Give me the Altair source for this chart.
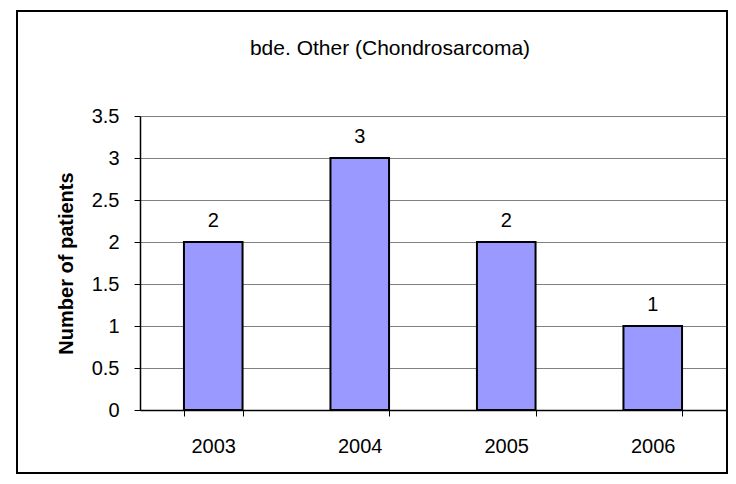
import altair as alt
import pandas as pd

years = ["2003", "2004", "2005", "2006"]
patients = [2, 3, 2, 1]
y_ticks = [0, 0.5, 1, 1.5, 2, 2.5, 3, 3.5]
chart_title = "bde. Other (Chondrosarcoma)"

df = pd.DataFrame({"year": years, "patients": patients})
FONT = "Liberation Sans"
FS = 20

base = alt.Chart(df)

x_enc = alt.X("year:N", sort=years, title=None,
              scale=alt.Scale(paddingInner=0.6, paddingOuter=0.3),
              axis=alt.Axis(labelAngle=0, labelFontSize=FS, labelColor="black",
                            labelFont=FONT, labelPadding=20, tickBand="extent",
                            tickSize=6, tickColor="black", domainColor="black",
                            domainWidth=1.5, grid=False))
y_enc = alt.Y("patients:Q", title="Number of patients",
              scale=alt.Scale(domain=[0, 3.5], nice=False),
              axis=alt.Axis(values=y_ticks, format="~g", labelFontSize=FS,
                            labelColor="black", labelFont=FONT, labelPadding=15,
                            tickSize=6, tickColor="black", domainColor="black",
                            domainWidth=1.5, gridColor="#808080", gridWidth=1,
                            titleFont=FONT, titleFontSize=FS, titleFontWeight="bold",
                            titleColor="black", titleX=-64, titleY=147,
                            titleAnchor="middle"))

bars = base.mark_bar(color="#9999FF", stroke="black", strokeWidth=2).encode(
    x=x_enc, y=y_enc)

labels = base.mark_text(font=FONT, fontSize=FS, color="black", dy=-15,
                        baseline="alphabetic").encode(
    x=alt.X("year:N", sort=years), y="patients:Q", text="patients:Q")

title = alt.Chart(pd.DataFrame({"t": [chart_title]})).mark_text(
    font=FONT, fontSize=21, color="black", baseline="alphabetic", align="center",
    clip=False).encode(text="t:N", x=alt.value(250), y=alt.value(-61))

border = base.mark_rect(fill=None, stroke="black", strokeWidth=2, clip=False).encode(
    x=alt.value(-123), x2=alt.value(587), y=alt.value(-105), y2=alt.value(357))

chart = alt.layer(bars, labels, title, border).properties(
    width=586, height=294,
    autosize=alt.AutoSizeParams(type="none"),
    padding={"left": 132, "top": 108, "right": 2, "bottom": 64},
).configure_view(stroke="#808080", strokeWidth=1.5).configure(background="white")

chart.save("out.html", embed_options={"renderer": "svg", "actions": False})
